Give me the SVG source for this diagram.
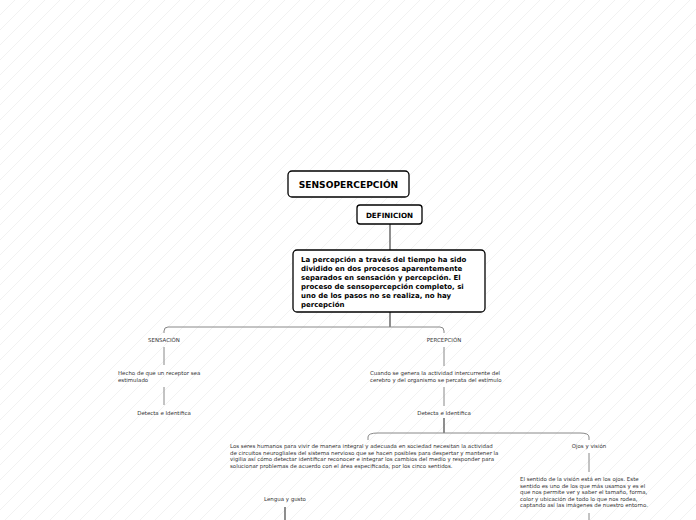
<svg xmlns="http://www.w3.org/2000/svg" width="696" height="520" viewBox="0 0 696 520">
<defs>
<pattern id="hatch" patternUnits="userSpaceOnUse" width="15" height="15">
<path d="M-2,17 L17,-2 M-2,2 L2,-2 M13,17 L17,13" stroke="#f2f2f2" stroke-width="1"/>
</pattern>
</defs>
<style>
.box{fill:#fff;stroke:#000;stroke-width:1.3}
.t{font-family:"DejaVu Sans",Verdana,sans-serif;fill:#000}
.b{font-weight:bold}
.s{font-size:5.45px;fill:#333}
.c{text-anchor:middle}
.ln{fill:none;stroke:#888;stroke-width:1}
.dk{fill:none;stroke:#444;stroke-width:1.2}
</style>
<rect width="696" height="520" fill="#fff"/>
<rect width="696" height="520" fill="url(#hatch)"/>
<g id="connectors">
<path class="dk" d="M390,224 V250"/>
<path class="dk" d="M390,312 V327"/>
<path class="ln" d="M164,333 V331 Q164,327 168,327 H440 Q444,327 444,331 V333"/>
<path class="ln" d="M164,347 V365"/>
<path class="ln" d="M164,387 V405"/>
<path class="ln" d="M444,347 V366"/>
<path class="ln" d="M444,387 V406"/>
<path class="dk" d="M444,418 V433"/>
<path class="ln" d="M368,440 V437 Q368,433 378,433 H580 Q589,433 589,437 V440"/>
<path class="ln" d="M589,453 V472"/>
<path class="ln" d="M589,513 V520"/>
<path class="dk" d="M285,507 V520" stroke-width="1.6"/>
</g>
<g id="n-sensopercepcion">
<rect class="box" x="288" y="171" width="121" height="26" rx="4"/>
<text class="t b c" x="348.5" y="188" font-size="9.1">SENSOPERCEPCIÓN</text>
</g>
<g id="n-definicion">
<rect class="box" x="357" y="205" width="65" height="19" rx="3" stroke="#333"/>
<text class="t b c" x="389.5" y="217.5" font-size="7.2">DEFINICION</text>
</g>
<g id="n-percepcion-def">
<rect class="box" x="293" y="250" width="192" height="62" rx="4"/>
<text class="t b" font-size="7">
<tspan x="301" y="262">La percepción a través del tiempo ha sido</tspan>
<tspan x="301" y="271">dividido en dos procesos aparentemente</tspan>
<tspan x="301" y="280">separados en sensación y percepción. El</tspan>
<tspan x="301" y="289">proceso de sensopercepción  completo, si</tspan>
<tspan x="301" y="298">uno de los pasos no se realiza, no hay</tspan>
<tspan x="301" y="307">percepción</tspan>
</text>
</g>
<g id="n-sensacion">
<text class="t s c" x="164" y="342">SENSACIÓN</text>
</g>
<g id="n-hecho">
<text class="t s"><tspan x="118" y="375">Hecho de que un receptor sea</tspan><tspan x="118" y="382">estimulado</tspan></text>
</g>
<g id="n-detecta1">
<text class="t s c" x="164" y="415">Detecta e Identifica</text>
</g>
<g id="n-percepcion">
<text class="t s c" x="444" y="342">PERCEPCIÓN</text>
</g>
<g id="n-cuando">
<text class="t s"><tspan x="370" y="375">Cuando se genera la actividad intercurrente del</tspan><tspan x="370" y="382">cerebro y del organismo se percata del estímulo</tspan></text>
</g>
<g id="n-detecta2">
<text class="t s c" x="444" y="415">Detecta e Identifica</text>
</g>
<g id="n-seres">
<text class="t s">
<tspan x="230" y="448">Los seres humanos para vivir de manera integral y adecuada en sociedad necesitan la actividad</tspan>
<tspan x="230" y="454.5">de circuitos neurogliales del sistema nervioso que se hacen posibles para despertar y mantener la</tspan>
<tspan x="230" y="461">vigilia así cómo detectar identificar reconocer e integrar los cambios del medio y responder para</tspan>
<tspan x="230" y="467.5">solucionar problemas de acuerdo con el área especificada, por los cinco sentidos.</tspan>
</text>
</g>
<g id="n-ojos">
<text class="t s c" x="589" y="448">Ojos y visión</text>
</g>
<g id="n-vision">
<text class="t s">
<tspan x="520" y="481">El sentido de la visión está en los ojos. Este</tspan>
<tspan x="520" y="487.5">sentido es uno de los que más usamos y es el</tspan>
<tspan x="520" y="494">que nos permite ver y saber el tamaño, forma,</tspan>
<tspan x="520" y="500.5">color y ubicación de todo lo que nos rodea,</tspan>
<tspan x="520" y="507">captando así las imágenes de nuestro entorno.</tspan>
</text>
</g>
<g id="n-lengua">
<text class="t s c" x="285" y="501">Lengua y gusto</text>
</g>
</svg>
